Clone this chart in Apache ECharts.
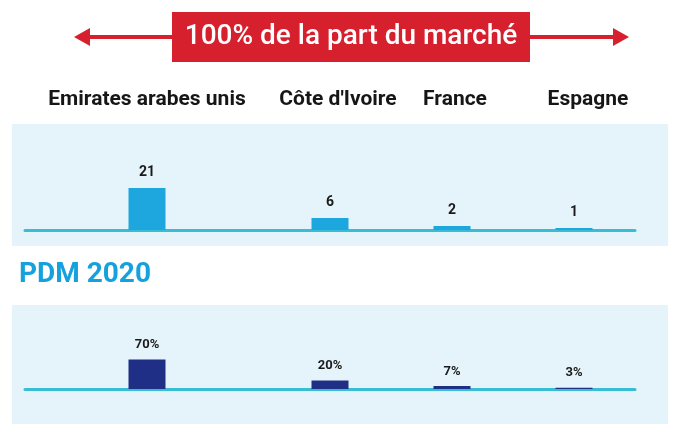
<!DOCTYPE html>
<html>
<head>
  <meta charset="utf-8">
  <title>Part du marché</title>
  <script src="https://cdn.jsdelivr.net/npm/echarts@6/dist/echarts.min.js"></script>
  <style>
    html, body { margin: 0; padding: 0; background: #fff; }
  </style>
</head>
<body>
<div id="main" style="width: 683px;height:424px;"></div>
<script type="text/javascript">

  // données
  var countries = ['Emirates arabes unis', "Côte d'Ivoire", 'France', 'Espagne'];
  var marketCount = [21, 6, 2, 1];
  var pdmShare = [70, 20, 7, 3];
  var titleText = '100% de la part du marché';
  var subTitle = 'PDM 2020';

  // mise en page : les pays ne sont pas espacés régulièrement
  var slotCount = 11;
  var slotOf = [2, 5, 7, 9];
  var labelShift = [0, 8, 3, 14];

  function spread(values, empty) {
    var out = [];
    for (var i = 0; i < slotCount; i++) out.push(empty);
    values.forEach(function (v, k) { out[slotOf[k]] = v; });
    return out;
  }

  var axisSlots = spread(countries, '');
  var topLabels = spread(countries.map(function (c, k) {
    return { value: c, textStyle: { padding: [0, 0, 0, labelShift[k] * 2] } };
  }), '');
  var red = '#d6202d';
  var font = 'Roboto';

  var myChart = echarts.init(document.getElementById('main'));

  var baseAxis = {
    type: 'category',
    boundaryGap: false,
    data: axisSlots,
    axisLine: { lineStyle: { color: '#38bdd4', width: 3 } },
    axisTick: { show: false },
    axisLabel: { show: false }
  };

  var option = {
    backgroundColor: '#ffffff',
    animation: false,
    textStyle: { fontFamily: font },
    title: [{
      text: subTitle,
      left: 14,
      top: 256,
      textStyle: { color: '#15a1dd', fontSize: 28, fontWeight: 'bold', fontFamily: font }
    }],
    graphic: [
      { type: 'rect', z: -10, shape: { x: 12, y: 124, width: 656, height: 122 }, style: { fill: '#e5f4fa' } },
      { type: 'rect', z: -10, shape: { x: 12, y: 305, width: 656, height: 119 }, style: { fill: '#e5f4fa' } },
      { type: 'line', shape: { x1: 86, y1: 37, x2: 175, y2: 37 }, style: { stroke: red, lineWidth: 4 } },
      { type: 'line', shape: { x1: 528, y1: 37, x2: 617, y2: 37 }, style: { stroke: red, lineWidth: 4 } },
      { type: 'polygon', shape: { points: [[74, 37], [90, 28], [90, 46]] }, style: { fill: red } },
      { type: 'polygon', shape: { points: [[629, 37], [613, 28], [613, 46]] }, style: { fill: red } },
      { type: 'rect', shape: { x: 172, y: 12, width: 358, height: 50 }, style: { fill: red } },
      {
        type: 'text', x: 351, y: 37,
        style: {
          text: titleText, fill: '#ffffff', font: '500 28px ' + font,
          align: 'center', verticalAlign: 'middle'
        }
      }
    ],
    grid: [
      { left: 25, right: 48, top: 130, height: 100 },
      { left: 25, right: 48, top: 309, height: 80 }
    ],
    xAxis: [
      Object.assign({ gridIndex: 0 }, baseAxis),
      Object.assign({ gridIndex: 1 }, baseAxis),
      {
        gridIndex: 0,
        type: 'category',
        boundaryGap: false,
        position: 'top',
        data: topLabels,
        axisLine: { show: false },
        axisTick: { show: false },
        axisLabel: {
          interval: 0,
          margin: 20,
          color: '#161616',
          fontSize: 21,
          fontWeight: 'bold',
          fontFamily: font
        }
      }
    ],
    yAxis: [
      { gridIndex: 0, type: 'value', min: 0, max: 50, show: false, splitLine: { show: false } },
      { gridIndex: 1, type: 'value', min: 0, max: 190, show: false, splitLine: { show: false } }
    ],
    series: [
      {
        type: 'bar',
        xAxisIndex: 0,
        yAxisIndex: 0,
        barWidth: 37,
        data: spread(marketCount, '-'),
        itemStyle: { color: '#1ea6de' },
        label: {
          show: true, position: 'top', distance: 9,
          color: '#1a1a1a', fontSize: 14, fontWeight: 'bold', fontFamily: font
        }
      },
      {
        type: 'bar',
        xAxisIndex: 1,
        yAxisIndex: 1,
        barWidth: 37,
        data: spread(pdmShare, '-'),
        itemStyle: { color: '#1f2f85' },
        label: {
          show: true, position: 'top', distance: 8,
          color: '#1a1a1a', fontSize: 13, fontWeight: 'bold', fontFamily: font,
          formatter: '{c}%'
        }
      }
    ]
  };

  myChart.setOption(option);

</script>
</body>
</html>
